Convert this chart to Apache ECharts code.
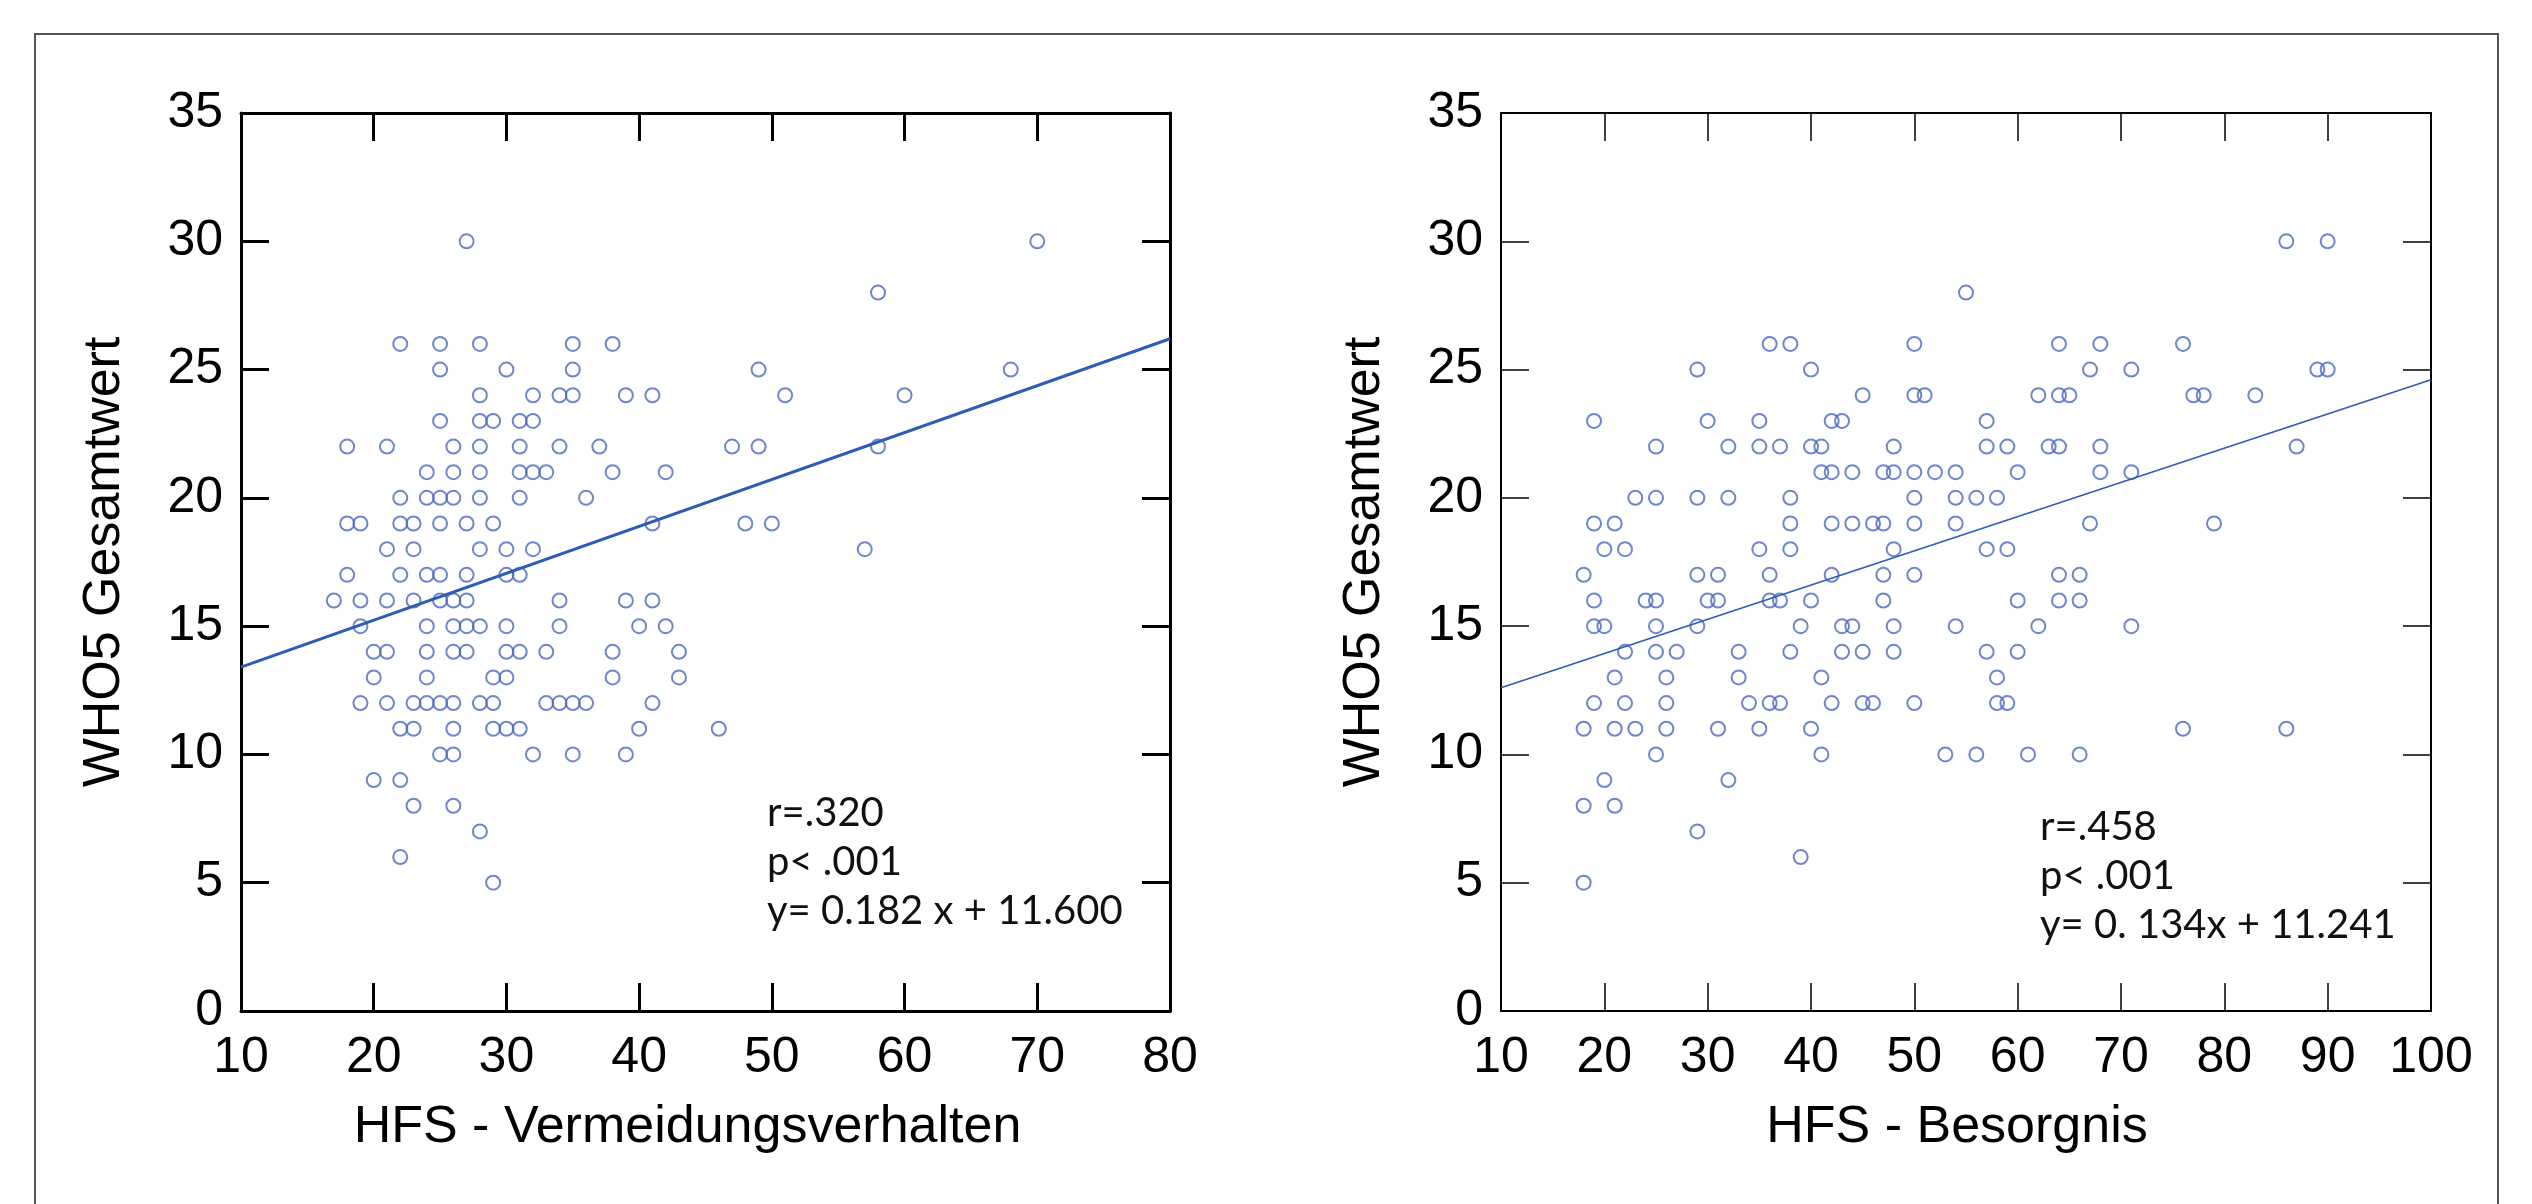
<!DOCTYPE html>
<html>
<head>
<meta charset="utf-8">
<script src="https://cdn.jsdelivr.net/npm/echarts@6/dist/echarts.min.js"></script>
<style>
html, body { margin: 0; padding: 0; background: #fff; }
#main { width: 2532px; height: 1204px; }
</style>
</head>
<body>
<div id="main"></div>
<script>
// [HFS score, WHO5 total], left panel: HFS - Vermeidungsverhalten
var avoidPoints = [
    [27,30],[70,30],
    [58,28],
    [22,26],[25,26],[28,26],[35,26],[38,26],
    [25,25],[30,25],[35,25],[49,25],[68,25],
    [28,24],[32,24],[34,24],[35,24],[39,24],[41,24],[51,24],[60,24],
    [25,23],[28,23],[29,23],[31,23],[32,23],
    [18,22],[21,22],[26,22],[28,22],[31,22],[34,22],[37,22],[47,22],[49,22],[58,22],
    [24,21],[26,21],[28,21],[31,21],[32,21],[33,21],[38,21],[42,21],
    [22,20],[24,20],[25,20],[26,20],[28,20],[31,20],[36,20],
    [18,19],[19,19],[22,19],[23,19],[25,19],[27,19],[29,19],[41,19],[48,19],[50,19],
    [21,18],[23,18],[28,18],[30,18],[32,18],[57,18],
    [18,17],[22,17],[24,17],[25,17],[27,17],[30,17],[31,17],
    [17,16],[19,16],[21,16],[23,16],[25,16],[26,16],[27,16],[34,16],[39,16],[41,16],
    [19,15],[24,15],[26,15],[27,15],[28,15],[30,15],[34,15],[40,15],[42,15],
    [20,14],[21,14],[24,14],[26,14],[27,14],[30,14],[31,14],[33,14],[38,14],[43,14],
    [20,13],[24,13],[29,13],[30,13],[38,13],[43,13],
    [19,12],[21,12],[23,12],[24,12],[25,12],[26,12],[28,12],[29,12],[33,12],[34,12],[35,12],[36,12],[41,12],
    [22,11],[23,11],[26,11],[29,11],[30,11],[31,11],[40,11],[46,11],
    [25,10],[26,10],[32,10],[35,10],[39,10],
    [20,9],[22,9],
    [23,8],[26,8],
    [28,7],
    [22,6],
    [29,5]
];

// right panel: HFS - Besorgnis
var worryPoints = [
    [86,30],[90,30],
    [55,28],
    [36,26],[38,26],[50,26],[64,26],[68,26],[76,26],
    [29,25],[40,25],[67,25],[71,25],[89,25],[90,25],
    [45,24],[50,24],[51,24],[62,24],[64,24],[65,24],[77,24],[78,24],[83,24],
    [19,23],[30,23],[35,23],[42,23],[43,23],[57,23],
    [25,22],[32,22],[35,22],[37,22],[40,22],[41,22],[48,22],[57,22],[59,22],[63,22],[64,22],[68,22],[87,22],
    [41,21],[42,21],[44,21],[47,21],[48,21],[50,21],[52,21],[54,21],[60,21],[68,21],[71,21],
    [23,20],[25,20],[29,20],[32,20],[38,20],[50,20],[54,20],[56,20],[58,20],
    [19,19],[21,19],[38,19],[42,19],[44,19],[46,19],[47,19],[50,19],[54,19],[67,19],[79,19],
    [20,18],[22,18],[35,18],[38,18],[48,18],[57,18],[59,18],
    [18,17],[29,17],[31,17],[36,17],[42,17],[47,17],[50,17],[64,17],[66,17],
    [19,16],[24,16],[25,16],[30,16],[31,16],[36,16],[37,16],[40,16],[47,16],[60,16],[64,16],[66,16],
    [19,15],[20,15],[25,15],[29,15],[39,15],[43,15],[44,15],[48,15],[54,15],[62,15],[71,15],
    [22,14],[25,14],[27,14],[33,14],[38,14],[43,14],[45,14],[48,14],[57,14],[60,14],
    [21,13],[26,13],[33,13],[41,13],[58,13],
    [19,12],[22,12],[26,12],[34,12],[36,12],[37,12],[42,12],[45,12],[46,12],[50,12],[58,12],[59,12],
    [18,11],[21,11],[23,11],[26,11],[31,11],[35,11],[40,11],[76,11],[86,11],
    [25,10],[41,10],[53,10],[56,10],[61,10],[66,10],
    [20,9],[32,9],
    [18,8],[21,8],
    [29,7],
    [39,6],
    [18,5]
];

// regression line end points as drawn
var avoidFit = [[10, 13.4], [80, 26.2]];
var worryFit = [[10, 12.6], [100, 24.6]];

var avoidStats = ['r=.320', 'p< .001', 'y= 0.182 x + 11.600'];
var worryStats = ['r=.458', 'p< .001', 'y= 0. 134x + 11.241'];

var xRangeAvoid = [10, 80];
var xRangeWorry = [10, 100];
var yRange = [0, 35];

var FONT = 'Liberation Sans, Arial, sans-serif';
var POINT_COLOR = '#4a68c0';
var LINE_COLOR = '#2d5bb6';
var STAT_SIZE = 40;

// bottom axis with labels + mirrored top axis for the inner ticks
function xPair(grid, range, name, lw, tw, shift) {
    var base = {
        type: 'value', gridIndex: grid, min: range[0], max: range[1], interval: 10,
        splitLine: { show: false },
        axisLine: { show: true, onZero: false, lineStyle: { color: '#000', width: lw } },
        axisTick: { show: true, inside: true, length: 28, lineStyle: { color: '#000', width: tw } }
    };
    var bottom = Object.assign({}, base, {
        position: 'bottom',
        name: name, nameLocation: 'middle', nameGap: 91,
        nameTextStyle: { fontFamily: FONT, fontSize: 52, color: '#000', padding: [0, shift, 0, 0] },
        axisLabel: { fontFamily: FONT, fontSize: 50, color: '#000', margin: 22 }
    });
    var top = Object.assign({}, base, { position: 'top', axisLabel: { show: false } });
    return [bottom, top];
}

function yPair(grid, name, lw, tw) {
    var base = {
        type: 'value', gridIndex: grid, min: yRange[0], max: yRange[1], interval: 5,
        splitLine: { show: false },
        axisLine: { show: true, onZero: false, lineStyle: { color: '#000', width: lw } },
        axisTick: { show: true, inside: true, length: 28, lineStyle: { color: '#000', width: tw } }
    };
    var left = Object.assign({}, base, {
        position: 'left',
        name: name, nameLocation: 'middle', nameGap: 110, nameRotate: 90,
        nameTextStyle: { fontFamily: FONT, fontSize: 52, color: '#000' },
        axisLabel: { fontFamily: FONT, fontSize: 50, color: '#000', margin: 18 }
    });
    var right = Object.assign({}, base, { position: 'right', axisLabel: { show: false } });
    return [left, right];
}

function statsText(lines, x, y0) {
    return lines.map(function (t, i) {
        return {
            type: 'text', left: x, top: y0 + i * 49 - STAT_SIZE / 2,
            style: { text: t, font: STAT_SIZE + 'px Lato, "Open Sans", sans-serif', fill: '#111' }
        };
    });
}

var chart = echarts.init(document.getElementById('main'), null, { renderer: 'canvas' });

var xAxes = xPair(0, xRangeAvoid, 'HFS - Vermeidungsverhalten', 3, 3, 36)
    .concat(xPair(1, xRangeWorry, 'HFS - Besorgnis', 2, 1.5, 18));
var yAxes = yPair(0, 'WHO5 Gesamtwert', 3, 3)
    .concat(yPair(1, 'WHO5 Gesamtwert', 2, 1.5));

var option = {
    animation: false,
    backgroundColor: '#fff',
    grid: [
        { left: 241, top: 113, width: 929, height: 898 },
        { left: 1501, top: 113, width: 930, height: 898 }
    ],
    xAxis: xAxes,
    yAxis: yAxes,
    series: [
        {
            type: 'scatter', xAxisIndex: 0, yAxisIndex: 0, data: avoidPoints,
            symbol: 'circle', symbolSize: 14,
            itemStyle: { color: 'rgba(0,0,0,0)', borderColor: POINT_COLOR, borderWidth: 2 }
        },
        {
            type: 'line', xAxisIndex: 0, yAxisIndex: 0, data: avoidFit,
            symbol: 'none', clip: true,
            lineStyle: { color: LINE_COLOR, width: 3 }
        },
        {
            type: 'scatter', xAxisIndex: 2, yAxisIndex: 2, data: worryPoints,
            symbol: 'circle', symbolSize: 14,
            itemStyle: { color: 'rgba(0,0,0,0)', borderColor: POINT_COLOR, borderWidth: 2 }
        },
        {
            type: 'line', xAxisIndex: 2, yAxisIndex: 2, data: worryFit,
            symbol: 'none', clip: true,
            lineStyle: { color: LINE_COLOR, width: 1.6 }
        }
    ],
    graphic: [
        {
            type: 'polyline',
            shape: { points: [[35, 1204], [35, 34], [2498, 34], [2498, 1204]] },
            style: { stroke: '#555', lineWidth: 2, fill: null }
        }
    ].concat(statsText(avoidStats, 767, 813))
     .concat(statsText(worryStats, 2040, 827))
};

chart.setOption(option);
window.addEventListener('resize', chart.resize);
</script>
</body>
</html>
